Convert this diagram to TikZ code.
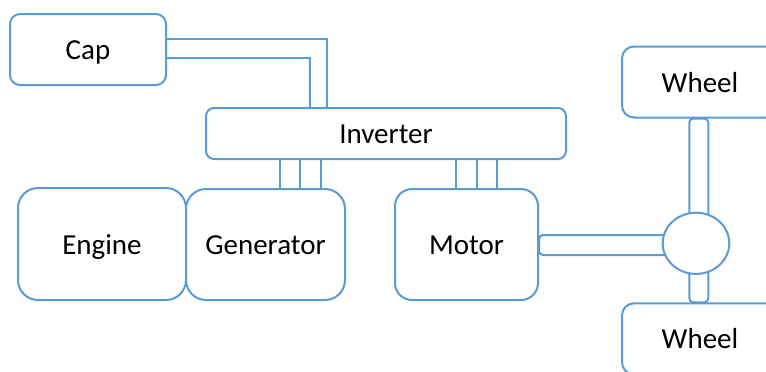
\documentclass[tikz,border=0pt]{standalone}
\usepackage{fontspec}
\setmainfont{Carlito}
\usetikzlibrary{shapes.geometric,backgrounds}
\definecolor{lineblue}{HTML}{5B9BD5}
\begin{document}
\begin{tikzpicture}[x=.5pt,y=-.5pt,line width=1pt,
    blk/.style={draw=lineblue,fill=white,rounded corners=#1,font=\fontsize{14.5}{17}\selectfont,
      text height=10pt,text depth=0pt},
    blk/.default=5pt,
    wire/.style={draw=lineblue,line width=1pt}]
		\useasboundingbox (0,0) rectangle (766,371);
		\node[blk,minimum width=78pt,minimum height=35.5pt] (cap) at (88,49.5) {Cap};
		\node[blk=4pt,minimum width=180pt,minimum height=25.5pt] (inverter) at (386,133.5) {Inverter};
		\node[blk=10pt,minimum width=84pt,minimum height=56pt] (engine) at (102,244) {Engine};
		\node[blk=10pt,minimum width=79.5pt,minimum height=55.5pt] (generator) at (265.5,244.5) {Generator};
		\node[blk=8.5pt,minimum width=71.5pt,minimum height=55.5pt] (motor) at (466.5,244.5) {Motor};
		\node[draw=lineblue,fill=white,ellipse,inner sep=0pt,minimum width=33.3pt,minimum height=30.6pt] (diff) at (696,243.3) {};
		\node[blk=6pt,minimum width=78pt,minimum height=35.5pt] (wheeltop) at (700,82) {Wheel};
		\node[blk=6pt,minimum width=78pt,minimum height=35.5pt] (wheelbot) at (700,338.8) {Wheel};
		% cap to inverter
		\draw[wire] ([yshift=5.25pt]cap.east) -| ([xshift=-29.5pt]inverter.north);
		\draw[wire] ([yshift=-4.25pt]cap.east) -| ([xshift=-38pt]inverter.north);
		% three phase lines
		\foreach \d in {-53,-43,-32.5}
			\draw[wire] ([xshift=\d pt]inverter.south) -- ([xshift=\d pt]inverter.south |- generator.north);
		\foreach \d in {35,45.5,55.5}
			\draw[wire] ([xshift=\d pt]inverter.south) -- ([xshift=\d pt]inverter.south |- motor.north);
		% shafts behind the differential
		\begin{scope}[on background layer]
			\fill[white] (0,0) rectangle (766,371);
			\draw[wire,rounded corners=2pt] ([yshift=4.75pt]motor.east) rectangle ([yshift=-5.25pt]motor.east -| diff.center);
			\draw[wire,rounded corners=2pt] ([xshift=-5.35pt]wheeltop.south) rectangle ([xshift=4.15pt]wheelbot.north);
		\end{scope}
\end{tikzpicture}
\end{document}
